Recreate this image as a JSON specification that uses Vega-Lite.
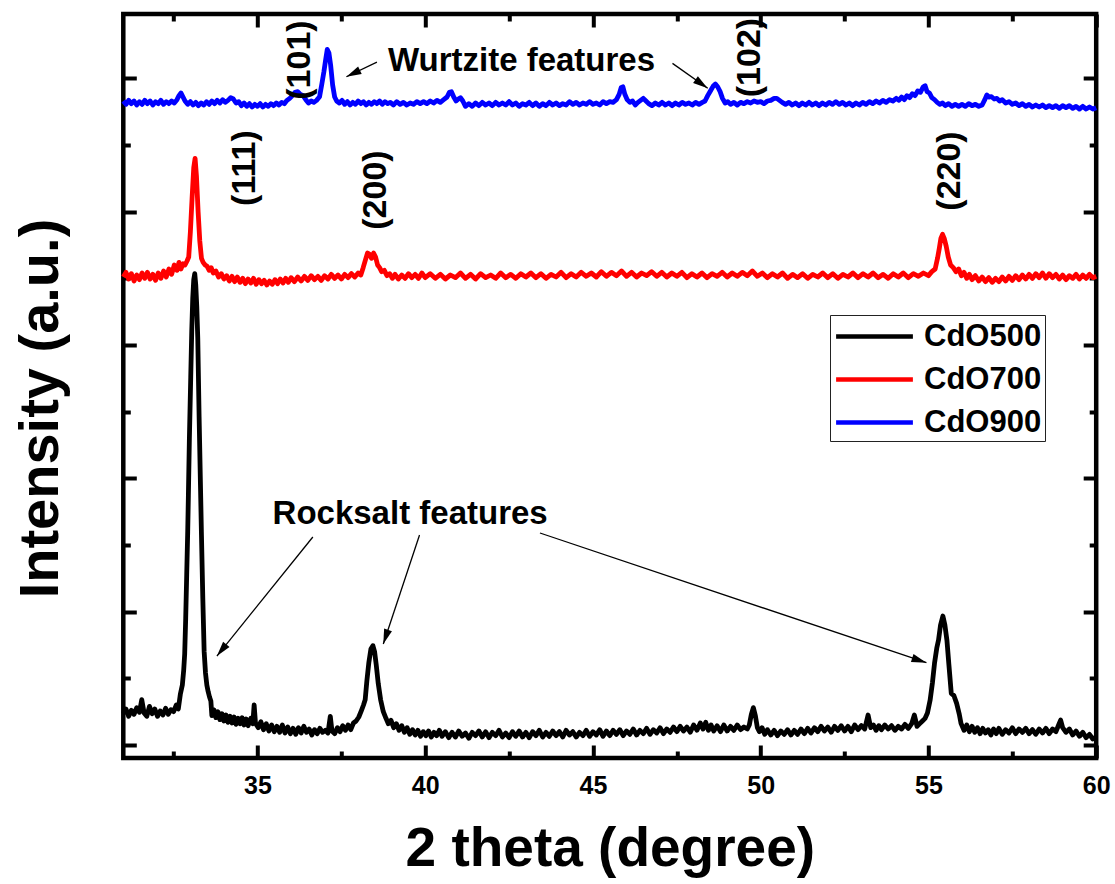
{
"$schema": "https://vega.github.io/schema/vega-lite/v6.json",
"autosize": {"type": "none"},
"width": 972.9,
"height": 744,
"padding": {"left": 123.3, "top": 14, "right": 18.8, "bottom": 126},
"background": "white",
"config": {"view": {"stroke": "black", "strokeWidth": 4.5}, "font": "Liberation Sans"},
"datasets": {
"xrd": [
{"s":"CdO500","x":31.00,"y":235},{"s":"CdO500","x":31.08,"y":270},{"s":"CdO500","x":31.16,"y":215},{"s":"CdO500","x":31.24,"y":260},{"s":"CdO500","x":31.32,"y":230},{"s":"CdO500","x":31.40,"y":280},{"s":"CdO500","x":31.48,"y":245},{"s":"CdO500","x":31.55,"y":340},{"s":"CdO500","x":31.62,"y":240},{"s":"CdO500","x":31.70,"y":215},{"s":"CdO500","x":31.78,"y":290},{"s":"CdO500","x":31.86,"y":235},{"s":"CdO500","x":31.94,"y":270},{"s":"CdO500","x":32.02,"y":215},{"s":"CdO500","x":32.10,"y":255},{"s":"CdO500","x":32.18,"y":225},{"s":"CdO500","x":32.26,"y":275},{"s":"CdO500","x":32.34,"y":230},{"s":"CdO500","x":32.42,"y":265},{"s":"CdO500","x":32.50,"y":250},{"s":"CdO500","x":32.58,"y":300},{"s":"CdO500","x":32.64,"y":270},{"s":"CdO500","x":32.70,"y":380},{"s":"CdO500","x":32.76,"y":450},{"s":"CdO500","x":32.80,"y":560},{"s":"CdO500","x":32.83,"y":684},{"s":"CdO500","x":32.86,"y":950},{"s":"CdO500","x":32.89,"y":1277},{"s":"CdO500","x":32.92,"y":1600},{"s":"CdO500","x":32.94,"y":1870},{"s":"CdO500","x":32.97,"y":2300},{"s":"CdO500","x":33.01,"y":2760},{"s":"CdO500","x":33.04,"y":3100},{"s":"CdO500","x":33.07,"y":3350},{"s":"CdO500","x":33.10,"y":3490},{"s":"CdO500","x":33.13,"y":3535},{"s":"CdO500","x":33.16,"y":3450},{"s":"CdO500","x":33.19,"y":3290},{"s":"CdO500","x":33.22,"y":3050},{"s":"CdO500","x":33.26,"y":2460},{"s":"CdO500","x":33.30,"y":1950},{"s":"CdO500","x":33.33,"y":1573},{"s":"CdO500","x":33.37,"y":1100},{"s":"CdO500","x":33.41,"y":700},{"s":"CdO500","x":33.45,"y":540},{"s":"CdO500","x":33.49,"y":450},{"s":"CdO500","x":33.53,"y":400},{"s":"CdO500","x":33.57,"y":360},{"s":"CdO500","x":33.61,"y":330},{"s":"CdO500","x":33.64,"y":220},{"s":"CdO500","x":33.70,"y":265},{"s":"CdO500","x":33.76,"y":205},{"s":"CdO500","x":33.82,"y":250},{"s":"CdO500","x":33.88,"y":190},{"s":"CdO500","x":33.94,"y":235},{"s":"CdO500","x":34.00,"y":180},{"s":"CdO500","x":34.06,"y":225},{"s":"CdO500","x":34.12,"y":170},{"s":"CdO500","x":34.18,"y":215},{"s":"CdO500","x":34.24,"y":165},{"s":"CdO500","x":34.30,"y":210},{"s":"CdO500","x":34.36,"y":155},{"s":"CdO500","x":34.42,"y":200},{"s":"CdO500","x":34.48,"y":160},{"s":"CdO500","x":34.54,"y":205},{"s":"CdO500","x":34.60,"y":150},{"s":"CdO500","x":34.66,"y":195},{"s":"CdO500","x":34.72,"y":145},{"s":"CdO500","x":34.80,"y":200},{"s":"CdO500","x":34.86,"y":160},{"s":"CdO500","x":34.90,"y":300},{"s":"CdO500","x":34.94,"y":165},{"s":"CdO500","x":35.02,"y":130},{"s":"CdO500","x":35.10,"y":175},{"s":"CdO500","x":35.18,"y":115},{"s":"CdO500","x":35.26,"y":160},{"s":"CdO500","x":35.34,"y":105},{"s":"CdO500","x":35.42,"y":150},{"s":"CdO500","x":35.50,"y":100},{"s":"CdO500","x":35.58,"y":140},{"s":"CdO500","x":35.66,"y":95},{"s":"CdO500","x":35.74,"y":150},{"s":"CdO500","x":35.82,"y":90},{"s":"CdO500","x":35.90,"y":135},{"s":"CdO500","x":35.98,"y":85},{"s":"CdO500","x":36.06,"y":125},{"s":"CdO500","x":36.14,"y":80},{"s":"CdO500","x":36.22,"y":130},{"s":"CdO500","x":36.30,"y":90},{"s":"CdO500","x":36.38,"y":140},{"s":"CdO500","x":36.46,"y":95},{"s":"CdO500","x":36.54,"y":120},{"s":"CdO500","x":36.62,"y":75},{"s":"CdO500","x":36.70,"y":115},{"s":"CdO500","x":36.78,"y":85},{"s":"CdO500","x":36.86,"y":125},{"s":"CdO500","x":36.94,"y":95},{"s":"CdO500","x":37.02,"y":110},{"s":"CdO500","x":37.10,"y":90},{"s":"CdO500","x":37.17,"y":215},{"s":"CdO500","x":37.22,"y":105},{"s":"CdO500","x":37.30,"y":85},{"s":"CdO500","x":37.38,"y":130},{"s":"CdO500","x":37.46,"y":100},{"s":"CdO500","x":37.54,"y":145},{"s":"CdO500","x":37.62,"y":110},{"s":"CdO500","x":37.70,"y":150},{"s":"CdO500","x":37.78,"y":115},{"s":"CdO500","x":37.86,"y":165},{"s":"CdO500","x":37.94,"y":180},{"s":"CdO500","x":38.02,"y":210},{"s":"CdO500","x":38.10,"y":260},{"s":"CdO500","x":38.16,"y":300},{"s":"CdO500","x":38.21,"y":340},{"s":"CdO500","x":38.26,"y":480},{"s":"CdO500","x":38.32,"y":620},{"s":"CdO500","x":38.38,"y":720},{"s":"CdO500","x":38.44,"y":745},{"s":"CdO500","x":38.49,"y":700},{"s":"CdO500","x":38.54,"y":600},{"s":"CdO500","x":38.60,"y":460},{"s":"CdO500","x":38.67,"y":340},{"s":"CdO500","x":38.75,"y":250},{"s":"CdO500","x":38.83,"y":200},{"s":"CdO500","x":38.90,"y":160},{"s":"CdO500","x":38.98,"y":185},{"s":"CdO500","x":39.06,"y":130},{"s":"CdO500","x":39.14,"y":160},{"s":"CdO500","x":39.22,"y":110},{"s":"CdO500","x":39.30,"y":145},{"s":"CdO500","x":39.38,"y":95},{"s":"CdO500","x":39.46,"y":130},{"s":"CdO500","x":39.54,"y":80},{"s":"CdO500","x":39.62,"y":115},{"s":"CdO500","x":39.70,"y":75},{"s":"CdO500","x":39.78,"y":110},{"s":"CdO500","x":39.86,"y":65},{"s":"CdO500","x":39.94,"y":100},{"s":"CdO500","x":40.02,"y":70},{"s":"CdO500","x":40.10,"y":105},{"s":"CdO500","x":40.18,"y":60},{"s":"CdO500","x":40.26,"y":95},{"s":"CdO500","x":40.34,"y":70},{"s":"CdO500","x":40.42,"y":110},{"s":"CdO500","x":40.50,"y":65},{"s":"CdO500","x":40.60,"y":100},{"s":"CdO500","x":40.70,"y":55},{"s":"CdO500","x":40.80,"y":95},{"s":"CdO500","x":40.90,"y":60},{"s":"CdO500","x":41.00,"y":105},{"s":"CdO500","x":41.10,"y":65},{"s":"CdO500","x":41.20,"y":90},{"s":"CdO500","x":41.30,"y":50},{"s":"CdO500","x":41.40,"y":95},{"s":"CdO500","x":41.50,"y":70},{"s":"CdO500","x":41.60,"y":105},{"s":"CdO500","x":41.70,"y":60},{"s":"CdO500","x":41.80,"y":100},{"s":"CdO500","x":41.90,"y":55},{"s":"CdO500","x":42.00,"y":95},{"s":"CdO500","x":42.10,"y":70},{"s":"CdO500","x":42.20,"y":110},{"s":"CdO500","x":42.30,"y":60},{"s":"CdO500","x":42.40,"y":90},{"s":"CdO500","x":42.50,"y":55},{"s":"CdO500","x":42.60,"y":100},{"s":"CdO500","x":42.70,"y":65},{"s":"CdO500","x":42.80,"y":105},{"s":"CdO500","x":42.90,"y":60},{"s":"CdO500","x":43.00,"y":95},{"s":"CdO500","x":43.10,"y":55},{"s":"CdO500","x":43.20,"y":100},{"s":"CdO500","x":43.30,"y":70},{"s":"CdO500","x":43.40,"y":110},{"s":"CdO500","x":43.50,"y":60},{"s":"CdO500","x":43.60,"y":95},{"s":"CdO500","x":43.70,"y":65},{"s":"CdO500","x":43.80,"y":105},{"s":"CdO500","x":43.90,"y":70},{"s":"CdO500","x":44.00,"y":100},{"s":"CdO500","x":44.10,"y":60},{"s":"CdO500","x":44.20,"y":110},{"s":"CdO500","x":44.30,"y":75},{"s":"CdO500","x":44.40,"y":100},{"s":"CdO500","x":44.50,"y":60},{"s":"CdO500","x":44.60,"y":95},{"s":"CdO500","x":44.70,"y":70},{"s":"CdO500","x":44.80,"y":110},{"s":"CdO500","x":44.90,"y":65},{"s":"CdO500","x":45.00,"y":100},{"s":"CdO500","x":45.10,"y":75},{"s":"CdO500","x":45.20,"y":115},{"s":"CdO500","x":45.30,"y":65},{"s":"CdO500","x":45.40,"y":105},{"s":"CdO500","x":45.50,"y":70},{"s":"CdO500","x":45.60,"y":110},{"s":"CdO500","x":45.70,"y":80},{"s":"CdO500","x":45.80,"y":115},{"s":"CdO500","x":45.90,"y":70},{"s":"CdO500","x":46.00,"y":105},{"s":"CdO500","x":46.10,"y":80},{"s":"CdO500","x":46.20,"y":120},{"s":"CdO500","x":46.30,"y":75},{"s":"CdO500","x":46.40,"y":110},{"s":"CdO500","x":46.50,"y":85},{"s":"CdO500","x":46.60,"y":125},{"s":"CdO500","x":46.70,"y":80},{"s":"CdO500","x":46.80,"y":115},{"s":"CdO500","x":46.90,"y":90},{"s":"CdO500","x":47.00,"y":130},{"s":"CdO500","x":47.10,"y":85},{"s":"CdO500","x":47.20,"y":120},{"s":"CdO500","x":47.30,"y":95},{"s":"CdO500","x":47.40,"y":135},{"s":"CdO500","x":47.50,"y":100},{"s":"CdO500","x":47.60,"y":140},{"s":"CdO500","x":47.70,"y":105},{"s":"CdO500","x":47.80,"y":135},{"s":"CdO500","x":47.90,"y":95},{"s":"CdO500","x":48.00,"y":150},{"s":"CdO500","x":48.10,"y":110},{"s":"CdO500","x":48.20,"y":165},{"s":"CdO500","x":48.28,"y":120},{"s":"CdO500","x":48.36,"y":170},{"s":"CdO500","x":48.44,"y":110},{"s":"CdO500","x":48.52,"y":150},{"s":"CdO500","x":48.60,"y":105},{"s":"CdO500","x":48.70,"y":145},{"s":"CdO500","x":48.80,"y":100},{"s":"CdO500","x":48.90,"y":150},{"s":"CdO500","x":49.00,"y":105},{"s":"CdO500","x":49.10,"y":140},{"s":"CdO500","x":49.20,"y":110},{"s":"CdO500","x":49.30,"y":150},{"s":"CdO500","x":49.40,"y":115},{"s":"CdO500","x":49.50,"y":135},{"s":"CdO500","x":49.60,"y":120},{"s":"CdO500","x":49.66,"y":150},{"s":"CdO500","x":49.72,"y":230},{"s":"CdO500","x":49.78,"y":280},{"s":"CdO500","x":49.84,"y":220},{"s":"CdO500","x":49.90,"y":130},{"s":"CdO500","x":49.96,"y":100},{"s":"CdO500","x":50.04,"y":130},{"s":"CdO500","x":50.12,"y":80},{"s":"CdO500","x":50.20,"y":115},{"s":"CdO500","x":50.30,"y":75},{"s":"CdO500","x":50.40,"y":110},{"s":"CdO500","x":50.50,"y":70},{"s":"CdO500","x":50.60,"y":105},{"s":"CdO500","x":50.70,"y":80},{"s":"CdO500","x":50.80,"y":115},{"s":"CdO500","x":50.90,"y":75},{"s":"CdO500","x":51.00,"y":110},{"s":"CdO500","x":51.10,"y":80},{"s":"CdO500","x":51.20,"y":120},{"s":"CdO500","x":51.30,"y":85},{"s":"CdO500","x":51.40,"y":125},{"s":"CdO500","x":51.50,"y":90},{"s":"CdO500","x":51.60,"y":130},{"s":"CdO500","x":51.70,"y":100},{"s":"CdO500","x":51.80,"y":140},{"s":"CdO500","x":51.90,"y":105},{"s":"CdO500","x":52.00,"y":135},{"s":"CdO500","x":52.10,"y":95},{"s":"CdO500","x":52.20,"y":140},{"s":"CdO500","x":52.30,"y":110},{"s":"CdO500","x":52.40,"y":145},{"s":"CdO500","x":52.50,"y":105},{"s":"CdO500","x":52.60,"y":140},{"s":"CdO500","x":52.70,"y":100},{"s":"CdO500","x":52.80,"y":150},{"s":"CdO500","x":52.90,"y":115},{"s":"CdO500","x":53.00,"y":145},{"s":"CdO500","x":53.10,"y":120},{"s":"CdO500","x":53.20,"y":225},{"s":"CdO500","x":53.28,"y":130},{"s":"CdO500","x":53.36,"y":150},{"s":"CdO500","x":53.44,"y":110},{"s":"CdO500","x":53.52,"y":145},{"s":"CdO500","x":53.60,"y":115},{"s":"CdO500","x":53.70,"y":150},{"s":"CdO500","x":53.80,"y":120},{"s":"CdO500","x":53.90,"y":145},{"s":"CdO500","x":54.00,"y":110},{"s":"CdO500","x":54.10,"y":140},{"s":"CdO500","x":54.20,"y":120},{"s":"CdO500","x":54.30,"y":155},{"s":"CdO500","x":54.40,"y":125},{"s":"CdO500","x":54.50,"y":160},{"s":"CdO500","x":54.58,"y":225},{"s":"CdO500","x":54.66,"y":140},{"s":"CdO500","x":54.74,"y":160},{"s":"CdO500","x":54.82,"y":180},{"s":"CdO500","x":54.90,"y":200},{"s":"CdO500","x":54.97,"y":240},{"s":"CdO500","x":55.05,"y":337},{"s":"CdO500","x":55.12,"y":470},{"s":"CdO500","x":55.18,"y":612},{"s":"CdO500","x":55.25,"y":730},{"s":"CdO500","x":55.30,"y":787},{"s":"CdO500","x":55.36,"y":900},{"s":"CdO500","x":55.43,"y":967},{"s":"CdO500","x":55.49,"y":900},{"s":"CdO500","x":55.55,"y":787},{"s":"CdO500","x":55.61,"y":600},{"s":"CdO500","x":55.68,"y":387},{"s":"CdO500","x":55.76,"y":370},{"s":"CdO500","x":55.84,"y":312},{"s":"CdO500","x":55.92,"y":230},{"s":"CdO500","x":55.97,"y":162},{"s":"CdO500","x":56.06,"y":110},{"s":"CdO500","x":56.14,"y":150},{"s":"CdO500","x":56.22,"y":100},{"s":"CdO500","x":56.30,"y":140},{"s":"CdO500","x":56.38,"y":95},{"s":"CdO500","x":56.46,"y":130},{"s":"CdO500","x":56.54,"y":85},{"s":"CdO500","x":56.62,"y":125},{"s":"CdO500","x":56.70,"y":90},{"s":"CdO500","x":56.78,"y":115},{"s":"CdO500","x":56.86,"y":75},{"s":"CdO500","x":56.94,"y":120},{"s":"CdO500","x":57.02,"y":85},{"s":"CdO500","x":57.10,"y":125},{"s":"CdO500","x":57.20,"y":80},{"s":"CdO500","x":57.30,"y":115},{"s":"CdO500","x":57.40,"y":90},{"s":"CdO500","x":57.50,"y":130},{"s":"CdO500","x":57.60,"y":85},{"s":"CdO500","x":57.70,"y":120},{"s":"CdO500","x":57.80,"y":95},{"s":"CdO500","x":57.90,"y":125},{"s":"CdO500","x":58.00,"y":85},{"s":"CdO500","x":58.10,"y":115},{"s":"CdO500","x":58.20,"y":80},{"s":"CdO500","x":58.30,"y":120},{"s":"CdO500","x":58.40,"y":90},{"s":"CdO500","x":58.50,"y":125},{"s":"CdO500","x":58.60,"y":85},{"s":"CdO500","x":58.70,"y":120},{"s":"CdO500","x":58.80,"y":100},{"s":"CdO500","x":58.88,"y":150},{"s":"CdO500","x":58.94,"y":187},{"s":"CdO500","x":59.00,"y":130},{"s":"CdO500","x":59.10,"y":95},{"s":"CdO500","x":59.20,"y":120},{"s":"CdO500","x":59.30,"y":75},{"s":"CdO500","x":59.40,"y":105},{"s":"CdO500","x":59.50,"y":65},{"s":"CdO500","x":59.60,"y":95},{"s":"CdO500","x":59.70,"y":55},{"s":"CdO500","x":59.80,"y":80},{"s":"CdO500","x":59.90,"y":45},{"s":"CdO500","x":60.00,"y":60},
{"s":"CdO700","x":31.00,"y":3510},{"s":"CdO700","x":31.08,"y":3545},{"s":"CdO700","x":31.16,"y":3495},{"s":"CdO700","x":31.24,"y":3535},{"s":"CdO700","x":31.32,"y":3480},{"s":"CdO700","x":31.40,"y":3525},{"s":"CdO700","x":31.48,"y":3490},{"s":"CdO700","x":31.56,"y":3540},{"s":"CdO700","x":31.64,"y":3500},{"s":"CdO700","x":31.72,"y":3545},{"s":"CdO700","x":31.80,"y":3495},{"s":"CdO700","x":31.88,"y":3530},{"s":"CdO700","x":31.96,"y":3485},{"s":"CdO700","x":32.04,"y":3540},{"s":"CdO700","x":32.12,"y":3500},{"s":"CdO700","x":32.20,"y":3555},{"s":"CdO700","x":32.28,"y":3510},{"s":"CdO700","x":32.36,"y":3570},{"s":"CdO700","x":32.44,"y":3530},{"s":"CdO700","x":32.52,"y":3600},{"s":"CdO700","x":32.60,"y":3560},{"s":"CdO700","x":32.66,"y":3620},{"s":"CdO700","x":32.72,"y":3570},{"s":"CdO700","x":32.78,"y":3610},{"s":"CdO700","x":32.84,"y":3600},{"s":"CdO700","x":32.90,"y":3630},{"s":"CdO700","x":32.95,"y":3660},{"s":"CdO700","x":33.00,"y":3850},{"s":"CdO700","x":33.05,"y":4100},{"s":"CdO700","x":33.10,"y":4330},{"s":"CdO700","x":33.14,"y":4400},{"s":"CdO700","x":33.18,"y":4270},{"s":"CdO700","x":33.23,"y":4000},{"s":"CdO700","x":33.28,"y":3780},{"s":"CdO700","x":33.33,"y":3650},{"s":"CdO700","x":33.38,"y":3620},{"s":"CdO700","x":33.44,"y":3600},{"s":"CdO700","x":33.50,"y":3590},{"s":"CdO700","x":33.56,"y":3560},{"s":"CdO700","x":33.62,"y":3580},{"s":"CdO700","x":33.68,"y":3540},{"s":"CdO700","x":33.76,"y":3555},{"s":"CdO700","x":33.84,"y":3510},{"s":"CdO700","x":33.92,"y":3535},{"s":"CdO700","x":34.00,"y":3495},{"s":"CdO700","x":34.08,"y":3520},{"s":"CdO700","x":34.16,"y":3480},{"s":"CdO700","x":34.24,"y":3515},{"s":"CdO700","x":34.32,"y":3475},{"s":"CdO700","x":34.40,"y":3510},{"s":"CdO700","x":34.48,"y":3470},{"s":"CdO700","x":34.56,"y":3500},{"s":"CdO700","x":34.64,"y":3460},{"s":"CdO700","x":34.72,"y":3495},{"s":"CdO700","x":34.80,"y":3465},{"s":"CdO700","x":34.88,"y":3500},{"s":"CdO700","x":34.96,"y":3455},{"s":"CdO700","x":35.04,"y":3490},{"s":"CdO700","x":35.12,"y":3460},{"s":"CdO700","x":35.20,"y":3485},{"s":"CdO700","x":35.28,"y":3450},{"s":"CdO700","x":35.36,"y":3480},{"s":"CdO700","x":35.44,"y":3455},{"s":"CdO700","x":35.52,"y":3490},{"s":"CdO700","x":35.60,"y":3460},{"s":"CdO700","x":35.68,"y":3495},{"s":"CdO700","x":35.76,"y":3465},{"s":"CdO700","x":35.84,"y":3500},{"s":"CdO700","x":35.92,"y":3470},{"s":"CdO700","x":36.00,"y":3505},{"s":"CdO700","x":36.10,"y":3475},{"s":"CdO700","x":36.20,"y":3510},{"s":"CdO700","x":36.30,"y":3480},{"s":"CdO700","x":36.40,"y":3515},{"s":"CdO700","x":36.50,"y":3485},{"s":"CdO700","x":36.60,"y":3520},{"s":"CdO700","x":36.70,"y":3490},{"s":"CdO700","x":36.80,"y":3515},{"s":"CdO700","x":36.90,"y":3485},{"s":"CdO700","x":37.00,"y":3520},{"s":"CdO700","x":37.10,"y":3495},{"s":"CdO700","x":37.20,"y":3530},{"s":"CdO700","x":37.30,"y":3500},{"s":"CdO700","x":37.40,"y":3525},{"s":"CdO700","x":37.50,"y":3495},{"s":"CdO700","x":37.60,"y":3530},{"s":"CdO700","x":37.70,"y":3505},{"s":"CdO700","x":37.80,"y":3535},{"s":"CdO700","x":37.90,"y":3510},{"s":"CdO700","x":38.00,"y":3540},{"s":"CdO700","x":38.08,"y":3525},{"s":"CdO700","x":38.15,"y":3580},{"s":"CdO700","x":38.22,"y":3640},{"s":"CdO700","x":38.28,"y":3690},{"s":"CdO700","x":38.34,"y":3680},{"s":"CdO700","x":38.40,"y":3650},{"s":"CdO700","x":38.46,"y":3690},{"s":"CdO700","x":38.52,"y":3660},{"s":"CdO700","x":38.58,"y":3600},{"s":"CdO700","x":38.64,"y":3580},{"s":"CdO700","x":38.70,"y":3550},{"s":"CdO700","x":38.78,"y":3560},{"s":"CdO700","x":38.86,"y":3520},{"s":"CdO700","x":38.94,"y":3535},{"s":"CdO700","x":39.02,"y":3500},{"s":"CdO700","x":39.10,"y":3530},{"s":"CdO700","x":39.20,"y":3495},{"s":"CdO700","x":39.30,"y":3525},{"s":"CdO700","x":39.40,"y":3500},{"s":"CdO700","x":39.50,"y":3535},{"s":"CdO700","x":39.60,"y":3505},{"s":"CdO700","x":39.70,"y":3530},{"s":"CdO700","x":39.80,"y":3500},{"s":"CdO700","x":39.90,"y":3540},{"s":"CdO700","x":40.00,"y":3505},{"s":"CdO700","x":40.15,"y":3535},{"s":"CdO700","x":40.30,"y":3500},{"s":"CdO700","x":40.45,"y":3530},{"s":"CdO700","x":40.60,"y":3495},{"s":"CdO700","x":40.75,"y":3525},{"s":"CdO700","x":40.90,"y":3505},{"s":"CdO700","x":41.05,"y":3540},{"s":"CdO700","x":41.20,"y":3500},{"s":"CdO700","x":41.35,"y":3530},{"s":"CdO700","x":41.50,"y":3495},{"s":"CdO700","x":41.65,"y":3535},{"s":"CdO700","x":41.80,"y":3505},{"s":"CdO700","x":41.95,"y":3525},{"s":"CdO700","x":42.10,"y":3500},{"s":"CdO700","x":42.25,"y":3540},{"s":"CdO700","x":42.40,"y":3505},{"s":"CdO700","x":42.55,"y":3530},{"s":"CdO700","x":42.70,"y":3500},{"s":"CdO700","x":42.85,"y":3535},{"s":"CdO700","x":43.00,"y":3510},{"s":"CdO700","x":43.15,"y":3540},{"s":"CdO700","x":43.30,"y":3505},{"s":"CdO700","x":43.45,"y":3535},{"s":"CdO700","x":43.60,"y":3500},{"s":"CdO700","x":43.75,"y":3530},{"s":"CdO700","x":43.90,"y":3510},{"s":"CdO700","x":44.05,"y":3545},{"s":"CdO700","x":44.20,"y":3505},{"s":"CdO700","x":44.35,"y":3535},{"s":"CdO700","x":44.50,"y":3510},{"s":"CdO700","x":44.65,"y":3545},{"s":"CdO700","x":44.80,"y":3515},{"s":"CdO700","x":44.95,"y":3540},{"s":"CdO700","x":45.10,"y":3510},{"s":"CdO700","x":45.25,"y":3550},{"s":"CdO700","x":45.40,"y":3515},{"s":"CdO700","x":45.55,"y":3545},{"s":"CdO700","x":45.70,"y":3520},{"s":"CdO700","x":45.85,"y":3555},{"s":"CdO700","x":46.00,"y":3515},{"s":"CdO700","x":46.15,"y":3545},{"s":"CdO700","x":46.30,"y":3510},{"s":"CdO700","x":46.45,"y":3540},{"s":"CdO700","x":46.60,"y":3520},{"s":"CdO700","x":46.75,"y":3550},{"s":"CdO700","x":46.90,"y":3515},{"s":"CdO700","x":47.05,"y":3545},{"s":"CdO700","x":47.20,"y":3510},{"s":"CdO700","x":47.35,"y":3540},{"s":"CdO700","x":47.50,"y":3515},{"s":"CdO700","x":47.65,"y":3545},{"s":"CdO700","x":47.80,"y":3505},{"s":"CdO700","x":47.95,"y":3535},{"s":"CdO700","x":48.10,"y":3510},{"s":"CdO700","x":48.25,"y":3540},{"s":"CdO700","x":48.40,"y":3505},{"s":"CdO700","x":48.55,"y":3535},{"s":"CdO700","x":48.70,"y":3515},{"s":"CdO700","x":48.85,"y":3545},{"s":"CdO700","x":49.00,"y":3510},{"s":"CdO700","x":49.15,"y":3540},{"s":"CdO700","x":49.30,"y":3515},{"s":"CdO700","x":49.45,"y":3545},{"s":"CdO700","x":49.60,"y":3520},{"s":"CdO700","x":49.75,"y":3555},{"s":"CdO700","x":49.90,"y":3515},{"s":"CdO700","x":50.05,"y":3540},{"s":"CdO700","x":50.20,"y":3505},{"s":"CdO700","x":50.35,"y":3535},{"s":"CdO700","x":50.50,"y":3510},{"s":"CdO700","x":50.65,"y":3540},{"s":"CdO700","x":50.80,"y":3500},{"s":"CdO700","x":50.95,"y":3530},{"s":"CdO700","x":51.10,"y":3505},{"s":"CdO700","x":51.25,"y":3535},{"s":"CdO700","x":51.40,"y":3500},{"s":"CdO700","x":51.55,"y":3530},{"s":"CdO700","x":51.70,"y":3510},{"s":"CdO700","x":51.85,"y":3540},{"s":"CdO700","x":52.00,"y":3505},{"s":"CdO700","x":52.15,"y":3535},{"s":"CdO700","x":52.30,"y":3500},{"s":"CdO700","x":52.45,"y":3530},{"s":"CdO700","x":52.60,"y":3510},{"s":"CdO700","x":52.75,"y":3540},{"s":"CdO700","x":52.90,"y":3505},{"s":"CdO700","x":53.05,"y":3535},{"s":"CdO700","x":53.20,"y":3510},{"s":"CdO700","x":53.35,"y":3540},{"s":"CdO700","x":53.50,"y":3505},{"s":"CdO700","x":53.65,"y":3530},{"s":"CdO700","x":53.80,"y":3500},{"s":"CdO700","x":53.95,"y":3535},{"s":"CdO700","x":54.10,"y":3510},{"s":"CdO700","x":54.25,"y":3540},{"s":"CdO700","x":54.40,"y":3505},{"s":"CdO700","x":54.55,"y":3535},{"s":"CdO700","x":54.70,"y":3515},{"s":"CdO700","x":54.85,"y":3540},{"s":"CdO700","x":55.00,"y":3520},{"s":"CdO700","x":55.10,"y":3550},{"s":"CdO700","x":55.20,"y":3570},{"s":"CdO700","x":55.27,"y":3650},{"s":"CdO700","x":55.32,"y":3720},{"s":"CdO700","x":55.37,"y":3800},{"s":"CdO700","x":55.42,"y":3830},{"s":"CdO700","x":55.47,"y":3800},{"s":"CdO700","x":55.53,"y":3740},{"s":"CdO700","x":55.59,"y":3660},{"s":"CdO700","x":55.66,"y":3600},{"s":"CdO700","x":55.74,"y":3580},{"s":"CdO700","x":55.82,"y":3550},{"s":"CdO700","x":55.90,"y":3570},{"s":"CdO700","x":55.98,"y":3520},{"s":"CdO700","x":56.06,"y":3545},{"s":"CdO700","x":56.14,"y":3500},{"s":"CdO700","x":56.22,"y":3530},{"s":"CdO700","x":56.30,"y":3490},{"s":"CdO700","x":56.40,"y":3520},{"s":"CdO700","x":56.50,"y":3480},{"s":"CdO700","x":56.60,"y":3510},{"s":"CdO700","x":56.70,"y":3475},{"s":"CdO700","x":56.80,"y":3505},{"s":"CdO700","x":56.90,"y":3470},{"s":"CdO700","x":57.00,"y":3500},{"s":"CdO700","x":57.10,"y":3475},{"s":"CdO700","x":57.20,"y":3510},{"s":"CdO700","x":57.30,"y":3480},{"s":"CdO700","x":57.40,"y":3515},{"s":"CdO700","x":57.50,"y":3485},{"s":"CdO700","x":57.60,"y":3520},{"s":"CdO700","x":57.70,"y":3490},{"s":"CdO700","x":57.80,"y":3525},{"s":"CdO700","x":57.90,"y":3495},{"s":"CdO700","x":58.00,"y":3530},{"s":"CdO700","x":58.10,"y":3500},{"s":"CdO700","x":58.20,"y":3535},{"s":"CdO700","x":58.30,"y":3505},{"s":"CdO700","x":58.40,"y":3540},{"s":"CdO700","x":58.50,"y":3500},{"s":"CdO700","x":58.60,"y":3535},{"s":"CdO700","x":58.70,"y":3505},{"s":"CdO700","x":58.80,"y":3530},{"s":"CdO700","x":58.90,"y":3495},{"s":"CdO700","x":59.00,"y":3525},{"s":"CdO700","x":59.10,"y":3490},{"s":"CdO700","x":59.20,"y":3520},{"s":"CdO700","x":59.30,"y":3500},{"s":"CdO700","x":59.40,"y":3530},{"s":"CdO700","x":59.50,"y":3495},{"s":"CdO700","x":59.60,"y":3525},{"s":"CdO700","x":59.70,"y":3500},{"s":"CdO700","x":59.80,"y":3530},{"s":"CdO700","x":59.90,"y":3505},{"s":"CdO700","x":60.00,"y":3515},
{"s":"CdO900","x":31.00,"y":4830},{"s":"CdO900","x":31.08,"y":4805},{"s":"CdO900","x":31.16,"y":4835},{"s":"CdO900","x":31.24,"y":4810},{"s":"CdO900","x":31.32,"y":4830},{"s":"CdO900","x":31.40,"y":4800},{"s":"CdO900","x":31.48,"y":4825},{"s":"CdO900","x":31.56,"y":4805},{"s":"CdO900","x":31.64,"y":4835},{"s":"CdO900","x":31.72,"y":4810},{"s":"CdO900","x":31.80,"y":4830},{"s":"CdO900","x":31.88,"y":4800},{"s":"CdO900","x":31.96,"y":4825},{"s":"CdO900","x":32.04,"y":4810},{"s":"CdO900","x":32.12,"y":4835},{"s":"CdO900","x":32.20,"y":4805},{"s":"CdO900","x":32.28,"y":4825},{"s":"CdO900","x":32.36,"y":4810},{"s":"CdO900","x":32.44,"y":4830},{"s":"CdO900","x":32.52,"y":4815},{"s":"CdO900","x":32.60,"y":4840},{"s":"CdO900","x":32.66,"y":4870},{"s":"CdO900","x":32.72,"y":4890},{"s":"CdO900","x":32.78,"y":4860},{"s":"CdO900","x":32.84,"y":4830},{"s":"CdO900","x":32.92,"y":4805},{"s":"CdO900","x":33.00,"y":4825},{"s":"CdO900","x":33.08,"y":4800},{"s":"CdO900","x":33.16,"y":4820},{"s":"CdO900","x":33.24,"y":4795},{"s":"CdO900","x":33.32,"y":4815},{"s":"CdO900","x":33.40,"y":4800},{"s":"CdO900","x":33.48,"y":4825},{"s":"CdO900","x":33.56,"y":4805},{"s":"CdO900","x":33.64,"y":4830},{"s":"CdO900","x":33.72,"y":4810},{"s":"CdO900","x":33.80,"y":4835},{"s":"CdO900","x":33.88,"y":4815},{"s":"CdO900","x":33.96,"y":4840},{"s":"CdO900","x":34.04,"y":4820},{"s":"CdO900","x":34.12,"y":4835},{"s":"CdO900","x":34.20,"y":4855},{"s":"CdO900","x":34.28,"y":4845},{"s":"CdO900","x":34.36,"y":4815},{"s":"CdO900","x":34.44,"y":4825},{"s":"CdO900","x":34.52,"y":4795},{"s":"CdO900","x":34.60,"y":4815},{"s":"CdO900","x":34.68,"y":4790},{"s":"CdO900","x":34.76,"y":4810},{"s":"CdO900","x":34.84,"y":4785},{"s":"CdO900","x":34.92,"y":4805},{"s":"CdO900","x":35.00,"y":4790},{"s":"CdO900","x":35.08,"y":4810},{"s":"CdO900","x":35.16,"y":4785},{"s":"CdO900","x":35.24,"y":4805},{"s":"CdO900","x":35.32,"y":4790},{"s":"CdO900","x":35.40,"y":4810},{"s":"CdO900","x":35.48,"y":4795},{"s":"CdO900","x":35.56,"y":4815},{"s":"CdO900","x":35.64,"y":4800},{"s":"CdO900","x":35.72,"y":4820},{"s":"CdO900","x":35.80,"y":4810},{"s":"CdO900","x":35.88,"y":4835},{"s":"CdO900","x":35.96,"y":4850},{"s":"CdO900","x":36.04,"y":4870},{"s":"CdO900","x":36.12,"y":4895},{"s":"CdO900","x":36.20,"y":4900},{"s":"CdO900","x":36.28,"y":4880},{"s":"CdO900","x":36.36,"y":4870},{"s":"CdO900","x":36.44,"y":4840},{"s":"CdO900","x":36.52,"y":4815},{"s":"CdO900","x":36.60,"y":4830},{"s":"CdO900","x":36.68,"y":4820},{"s":"CdO900","x":36.76,"y":4835},{"s":"CdO900","x":36.85,"y":4862},{"s":"CdO900","x":36.92,"y":4960},{"s":"CdO900","x":36.98,"y":5050},{"s":"CdO900","x":37.03,"y":5137},{"s":"CdO900","x":37.08,"y":5217},{"s":"CdO900","x":37.13,"y":5190},{"s":"CdO900","x":37.18,"y":5100},{"s":"CdO900","x":37.24,"y":4950},{"s":"CdO900","x":37.30,"y":4860},{"s":"CdO900","x":37.36,"y":4830},{"s":"CdO900","x":37.44,"y":4815},{"s":"CdO900","x":37.52,"y":4835},{"s":"CdO900","x":37.60,"y":4805},{"s":"CdO900","x":37.68,"y":4825},{"s":"CdO900","x":37.76,"y":4800},{"s":"CdO900","x":37.84,"y":4820},{"s":"CdO900","x":37.92,"y":4805},{"s":"CdO900","x":38.00,"y":4830},{"s":"CdO900","x":38.08,"y":4810},{"s":"CdO900","x":38.16,"y":4825},{"s":"CdO900","x":38.24,"y":4800},{"s":"CdO900","x":38.32,"y":4820},{"s":"CdO900","x":38.40,"y":4805},{"s":"CdO900","x":38.48,"y":4825},{"s":"CdO900","x":38.56,"y":4810},{"s":"CdO900","x":38.64,"y":4830},{"s":"CdO900","x":38.72,"y":4805},{"s":"CdO900","x":38.80,"y":4825},{"s":"CdO900","x":38.88,"y":4810},{"s":"CdO900","x":38.96,"y":4820},{"s":"CdO900","x":39.05,"y":4800},{"s":"CdO900","x":39.15,"y":4825},{"s":"CdO900","x":39.25,"y":4805},{"s":"CdO900","x":39.35,"y":4820},{"s":"CdO900","x":39.45,"y":4800},{"s":"CdO900","x":39.55,"y":4815},{"s":"CdO900","x":39.65,"y":4805},{"s":"CdO900","x":39.75,"y":4825},{"s":"CdO900","x":39.85,"y":4810},{"s":"CdO900","x":39.95,"y":4825},{"s":"CdO900","x":40.05,"y":4810},{"s":"CdO900","x":40.15,"y":4830},{"s":"CdO900","x":40.25,"y":4815},{"s":"CdO900","x":40.35,"y":4835},{"s":"CdO900","x":40.45,"y":4820},{"s":"CdO900","x":40.55,"y":4840},{"s":"CdO900","x":40.65,"y":4860},{"s":"CdO900","x":40.72,"y":4895},{"s":"CdO900","x":40.78,"y":4900},{"s":"CdO900","x":40.85,"y":4860},{"s":"CdO900","x":40.92,"y":4830},{"s":"CdO900","x":40.99,"y":4845},{"s":"CdO900","x":41.05,"y":4855},{"s":"CdO900","x":41.12,"y":4830},{"s":"CdO900","x":41.20,"y":4790},{"s":"CdO900","x":41.30,"y":4810},{"s":"CdO900","x":41.40,"y":4790},{"s":"CdO900","x":41.50,"y":4815},{"s":"CdO900","x":41.60,"y":4795},{"s":"CdO900","x":41.70,"y":4820},{"s":"CdO900","x":41.80,"y":4800},{"s":"CdO900","x":41.90,"y":4815},{"s":"CdO900","x":42.00,"y":4795},{"s":"CdO900","x":42.10,"y":4820},{"s":"CdO900","x":42.20,"y":4800},{"s":"CdO900","x":42.30,"y":4815},{"s":"CdO900","x":42.40,"y":4800},{"s":"CdO900","x":42.50,"y":4825},{"s":"CdO900","x":42.60,"y":4800},{"s":"CdO900","x":42.70,"y":4815},{"s":"CdO900","x":42.80,"y":4790},{"s":"CdO900","x":42.90,"y":4810},{"s":"CdO900","x":43.00,"y":4800},{"s":"CdO900","x":43.10,"y":4820},{"s":"CdO900","x":43.20,"y":4795},{"s":"CdO900","x":43.30,"y":4815},{"s":"CdO900","x":43.40,"y":4790},{"s":"CdO900","x":43.50,"y":4810},{"s":"CdO900","x":43.60,"y":4795},{"s":"CdO900","x":43.70,"y":4820},{"s":"CdO900","x":43.80,"y":4800},{"s":"CdO900","x":43.90,"y":4815},{"s":"CdO900","x":44.00,"y":4795},{"s":"CdO900","x":44.10,"y":4810},{"s":"CdO900","x":44.20,"y":4800},{"s":"CdO900","x":44.30,"y":4825},{"s":"CdO900","x":44.40,"y":4805},{"s":"CdO900","x":44.50,"y":4820},{"s":"CdO900","x":44.60,"y":4800},{"s":"CdO900","x":44.70,"y":4815},{"s":"CdO900","x":44.80,"y":4805},{"s":"CdO900","x":44.90,"y":4825},{"s":"CdO900","x":45.00,"y":4805},{"s":"CdO900","x":45.10,"y":4815},{"s":"CdO900","x":45.20,"y":4800},{"s":"CdO900","x":45.30,"y":4825},{"s":"CdO900","x":45.40,"y":4810},{"s":"CdO900","x":45.50,"y":4825},{"s":"CdO900","x":45.60,"y":4820},{"s":"CdO900","x":45.70,"y":4840},{"s":"CdO900","x":45.78,"y":4880},{"s":"CdO900","x":45.84,"y":4930},{"s":"CdO900","x":45.89,"y":4937},{"s":"CdO900","x":45.95,"y":4880},{"s":"CdO900","x":46.02,"y":4840},{"s":"CdO900","x":46.10,"y":4820},{"s":"CdO900","x":46.18,"y":4830},{"s":"CdO900","x":46.26,"y":4800},{"s":"CdO900","x":46.34,"y":4820},{"s":"CdO900","x":46.42,"y":4835},{"s":"CdO900","x":46.50,"y":4850},{"s":"CdO900","x":46.58,"y":4830},{"s":"CdO900","x":46.66,"y":4810},{"s":"CdO900","x":46.76,"y":4795},{"s":"CdO900","x":46.86,"y":4815},{"s":"CdO900","x":46.96,"y":4800},{"s":"CdO900","x":47.06,"y":4820},{"s":"CdO900","x":47.16,"y":4800},{"s":"CdO900","x":47.26,"y":4815},{"s":"CdO900","x":47.36,"y":4795},{"s":"CdO900","x":47.46,"y":4815},{"s":"CdO900","x":47.56,"y":4800},{"s":"CdO900","x":47.66,"y":4820},{"s":"CdO900","x":47.76,"y":4805},{"s":"CdO900","x":47.86,"y":4815},{"s":"CdO900","x":47.96,"y":4800},{"s":"CdO900","x":48.06,"y":4820},{"s":"CdO900","x":48.16,"y":4805},{"s":"CdO900","x":48.26,"y":4820},{"s":"CdO900","x":48.34,"y":4830},{"s":"CdO900","x":48.42,"y":4870},{"s":"CdO900","x":48.50,"y":4905},{"s":"CdO900","x":48.58,"y":4940},{"s":"CdO900","x":48.65,"y":4957},{"s":"CdO900","x":48.72,"y":4935},{"s":"CdO900","x":48.79,"y":4900},{"s":"CdO900","x":48.86,"y":4850},{"s":"CdO900","x":48.94,"y":4815},{"s":"CdO900","x":49.02,"y":4825},{"s":"CdO900","x":49.10,"y":4805},{"s":"CdO900","x":49.20,"y":4820},{"s":"CdO900","x":49.30,"y":4800},{"s":"CdO900","x":49.40,"y":4820},{"s":"CdO900","x":49.50,"y":4810},{"s":"CdO900","x":49.60,"y":4825},{"s":"CdO900","x":49.70,"y":4815},{"s":"CdO900","x":49.80,"y":4830},{"s":"CdO900","x":49.90,"y":4820},{"s":"CdO900","x":50.00,"y":4825},{"s":"CdO900","x":50.10,"y":4810},{"s":"CdO900","x":50.20,"y":4830},{"s":"CdO900","x":50.30,"y":4835},{"s":"CdO900","x":50.40,"y":4850},{"s":"CdO900","x":50.48,"y":4850},{"s":"CdO900","x":50.56,"y":4835},{"s":"CdO900","x":50.64,"y":4820},{"s":"CdO900","x":50.74,"y":4805},{"s":"CdO900","x":50.84,"y":4820},{"s":"CdO900","x":50.94,"y":4800},{"s":"CdO900","x":51.04,"y":4815},{"s":"CdO900","x":51.14,"y":4795},{"s":"CdO900","x":51.24,"y":4815},{"s":"CdO900","x":51.34,"y":4800},{"s":"CdO900","x":51.44,"y":4820},{"s":"CdO900","x":51.54,"y":4800},{"s":"CdO900","x":51.64,"y":4815},{"s":"CdO900","x":51.74,"y":4795},{"s":"CdO900","x":51.84,"y":4815},{"s":"CdO900","x":51.94,"y":4800},{"s":"CdO900","x":52.04,"y":4820},{"s":"CdO900","x":52.14,"y":4805},{"s":"CdO900","x":52.24,"y":4825},{"s":"CdO900","x":52.34,"y":4805},{"s":"CdO900","x":52.44,"y":4820},{"s":"CdO900","x":52.54,"y":4800},{"s":"CdO900","x":52.64,"y":4815},{"s":"CdO900","x":52.74,"y":4795},{"s":"CdO900","x":52.84,"y":4815},{"s":"CdO900","x":52.94,"y":4800},{"s":"CdO900","x":53.04,"y":4820},{"s":"CdO900","x":53.14,"y":4805},{"s":"CdO900","x":53.24,"y":4825},{"s":"CdO900","x":53.34,"y":4810},{"s":"CdO900","x":53.44,"y":4830},{"s":"CdO900","x":53.54,"y":4815},{"s":"CdO900","x":53.64,"y":4835},{"s":"CdO900","x":53.74,"y":4820},{"s":"CdO900","x":53.84,"y":4840},{"s":"CdO900","x":53.94,"y":4830},{"s":"CdO900","x":54.04,"y":4850},{"s":"CdO900","x":54.12,"y":4835},{"s":"CdO900","x":54.20,"y":4860},{"s":"CdO900","x":54.28,"y":4840},{"s":"CdO900","x":54.36,"y":4870},{"s":"CdO900","x":54.44,"y":4855},{"s":"CdO900","x":54.52,"y":4885},{"s":"CdO900","x":54.60,"y":4870},{"s":"CdO900","x":54.68,"y":4905},{"s":"CdO900","x":54.76,"y":4895},{"s":"CdO900","x":54.84,"y":4935},{"s":"CdO900","x":54.90,"y":4945},{"s":"CdO900","x":54.96,"y":4900},{"s":"CdO900","x":55.03,"y":4890},{"s":"CdO900","x":55.10,"y":4855},{"s":"CdO900","x":55.18,"y":4840},{"s":"CdO900","x":55.26,"y":4820},{"s":"CdO900","x":55.34,"y":4805},{"s":"CdO900","x":55.42,"y":4815},{"s":"CdO900","x":55.50,"y":4795},{"s":"CdO900","x":55.60,"y":4810},{"s":"CdO900","x":55.70,"y":4790},{"s":"CdO900","x":55.80,"y":4805},{"s":"CdO900","x":55.90,"y":4790},{"s":"CdO900","x":56.00,"y":4805},{"s":"CdO900","x":56.10,"y":4790},{"s":"CdO900","x":56.20,"y":4810},{"s":"CdO900","x":56.30,"y":4795},{"s":"CdO900","x":56.40,"y":4805},{"s":"CdO900","x":56.50,"y":4790},{"s":"CdO900","x":56.60,"y":4800},{"s":"CdO900","x":56.68,"y":4840},{"s":"CdO900","x":56.74,"y":4875},{"s":"CdO900","x":56.80,"y":4860},{"s":"CdO900","x":56.88,"y":4862},{"s":"CdO900","x":56.96,"y":4845},{"s":"CdO900","x":57.04,"y":4850},{"s":"CdO900","x":57.12,"y":4830},{"s":"CdO900","x":57.20,"y":4840},{"s":"CdO900","x":57.30,"y":4815},{"s":"CdO900","x":57.40,"y":4825},{"s":"CdO900","x":57.50,"y":4805},{"s":"CdO900","x":57.60,"y":4815},{"s":"CdO900","x":57.70,"y":4795},{"s":"CdO900","x":57.80,"y":4810},{"s":"CdO900","x":57.90,"y":4790},{"s":"CdO900","x":58.00,"y":4805},{"s":"CdO900","x":58.10,"y":4785},{"s":"CdO900","x":58.20,"y":4800},{"s":"CdO900","x":58.30,"y":4785},{"s":"CdO900","x":58.40,"y":4800},{"s":"CdO900","x":58.50,"y":4780},{"s":"CdO900","x":58.60,"y":4795},{"s":"CdO900","x":58.70,"y":4780},{"s":"CdO900","x":58.80,"y":4795},{"s":"CdO900","x":58.90,"y":4775},{"s":"CdO900","x":59.00,"y":4795},{"s":"CdO900","x":59.10,"y":4780},{"s":"CdO900","x":59.20,"y":4795},{"s":"CdO900","x":59.30,"y":4775},{"s":"CdO900","x":59.40,"y":4790},{"s":"CdO900","x":59.50,"y":4770},{"s":"CdO900","x":59.60,"y":4790},{"s":"CdO900","x":59.70,"y":4770},{"s":"CdO900","x":59.80,"y":4785},{"s":"CdO900","x":59.90,"y":4770},{"s":"CdO900","x":60.00,"y":4780}
],
"arrows": [
{"x":36.65,"y":1560,"x2":33.79,"y2":667,"a":218.9},
{"x":39.83,"y":1575,"x2":38.75,"y2":757,"a":198.4},
{"x":43.42,"y":1590,"x2":54.94,"y2":617,"a":108.5},
{"x":38.56,"y":5122,"x2":37.65,"y2":5012,"a":244.3},
{"x":47.37,"y":5112,"x2":48.42,"y2":4925,"a":125.4}
],
"hlabels": [
{"x":42.87,"y":5127,"t":"Wurtzite features"},
{"x":39.55,"y":1729,"t":"Rocksalt features"}
],
"vlabels": [
{"x":34.63,"y":4327,"t":"(111)"},
{"x":38.53,"y":4162,"t":"(200)"},
{"x":55.64,"y":4305,"t":"(220)"},
{"x":36.27,"y":5137,"t":"(101)"},
{"x":49.68,"y":5156,"t":"(102)"}
]
},
"resolve": {"axis": {"x": "independent", "y": "independent"}},
"layer": [
{
"data": {"name": "xrd"},
"mark": {"type": "line", "strokeWidth": 4.8, "strokeJoin": "round"},
"encoding": {
"x": {"field": "x", "type": "quantitative",
 "scale": {"domain": [31, 60], "nice": false, "zero": false},
 "axis": {"orient": "bottom", "values": [32.5,35,37.5,40,42.5,45,47.5,50,52.5,55,57.5,60],
  "labelExpr": "datum.value % 5 === 0 ? datum.label : ''",
  "tickSize": {"condition": {"test": "datum.value % 5 === 0", "value": -13}, "value": -7},
  "tickWidth": 4, "tickColor": "black", "domain": false, "grid": false,
  "labelFont": "Liberation Sans", "labelFontSize": 25, "labelFontWeight": "bold", "labelColor": "black",
  "labelPadding": 28, "labelFlush": false, "labelOverlap": false,
  "title": "2 theta (degree)", "titleFont": "Liberation Sans", "titleFontSize": 55, "titleFontWeight": "bold",
  "titleColor": "black", "titleX": 486.5, "titleY": 64.5, "titleBaseline": "top", "titleAlign": "center"}},
"y": {"field": "y", "type": "quantitative",
 "scale": {"domain": [-97.5, 5482.5], "nice": false, "zero": false},
 "axis": {"orient": "left", "values": [0,500,1000,1500,2000,2500,3000,3500,4000,4500,5000],
  "labels": false,
  "tickSize": {"condition": {"test": "datum.value % 1000 === 0", "value": -13}, "value": -7},
  "tickWidth": 4, "tickColor": "black", "domain": false, "grid": false,
  "title": "Intensity (a.u.)", "titleFont": "Liberation Sans", "titleFontSize": 56, "titleFontWeight": "bold",
  "titleColor": "black", "titleAngle": 270, "titleBaseline": "bottom", "titleAlign": "center",
  "titleX": -54.3, "titleY": 394}},
"color": {"field": "s", "type": "nominal",
 "scale": {"domain": ["CdO500","CdO700","CdO900"], "range": ["#000000","#ff0000","#0000ff"]},
 "legend": {"orient": "none", "legendX": 706.7, "legendY": 301, "title": null,
  "symbolType": "M-2.4,0L2.4,0", "symbolSize": 1024, "symbolStrokeWidth": 4.5,
  "symbolOffset": 23, "labelOffset": 31,
  "labelFont": "Liberation Sans", "labelFontSize": 31, "labelFontWeight": "bold", "labelColor": "black",
  "rowPadding": 9, "padding": 3, "strokeColor": "#222222", "fillColor": "white"}}
}
},
{
"data": {"name": "arrows"},
"mark": {"type": "rule", "color": "black", "strokeWidth": 1.3},
"encoding": {
"x": {"field": "x", "type": "quantitative", "scale": {"domain": [31, 60], "nice": false, "zero": false}, "axis": null},
"y": {"field": "y", "type": "quantitative", "scale": {"domain": [-97.5, 5482.5], "nice": false, "zero": false}, "axis": null},
"x2": {"field": "x2"},
"y2": {"field": "y2"}
}
},
{
"data": {"name": "arrows"},
"mark": {"type": "point", "shape": "M0,0L-0.55,2L0.55,2Z", "filled": true, "color": "black", "size": 225, "opacity": 1, "strokeWidth": 0},
"encoding": {
"x": {"field": "x2", "type": "quantitative", "scale": {"domain": [31, 60], "nice": false, "zero": false}, "axis": null},
"y": {"field": "y2", "type": "quantitative", "scale": {"domain": [-97.5, 5482.5], "nice": false, "zero": false}, "axis": null},
"angle": {"field": "a", "type": "quantitative", "scale": null}
}
},
{
"data": {"name": "hlabels"},
"mark": {"type": "text", "font": "Liberation Sans", "fontWeight": "bold", "fontSize": 33, "align": "center", "baseline": "middle", "color": "black"},
"encoding": {
"x": {"field": "x", "type": "quantitative", "scale": {"domain": [31, 60], "nice": false, "zero": false}, "axis": null},
"y": {"field": "y", "type": "quantitative", "scale": {"domain": [-97.5, 5482.5], "nice": false, "zero": false}, "axis": null},
"text": {"field": "t"}
}
},
{
"data": {"name": "vlabels"},
"mark": {"type": "text", "font": "Liberation Sans", "fontWeight": "bold", "fontSize": 34, "angle": 270, "align": "center", "baseline": "middle", "color": "black"},
"encoding": {
"x": {"field": "x", "type": "quantitative", "scale": {"domain": [31, 60], "nice": false, "zero": false},
 "axis": {"orient": "top", "values": [32.5,35,37.5,40,42.5,45,47.5,50,52.5,55,57.5,60], "labels": false,
  "tickSize": {"condition": {"test": "datum.value % 5 === 0", "value": -13}, "value": -7},
  "tickWidth": 4, "tickColor": "black", "domain": false, "grid": false, "title": null}},
"y": {"field": "y", "type": "quantitative", "scale": {"domain": [-97.5, 5482.5], "nice": false, "zero": false},
 "axis": {"orient": "right", "values": [0,500,1000,1500,2000,2500,3000,3500,4000,4500,5000], "labels": false,
  "tickSize": {"condition": {"test": "datum.value % 1000 === 0", "value": -13}, "value": -7},
  "tickWidth": 4, "tickColor": "black", "domain": false, "grid": false, "title": null}},
"text": {"field": "t"}
}
}
]
}
